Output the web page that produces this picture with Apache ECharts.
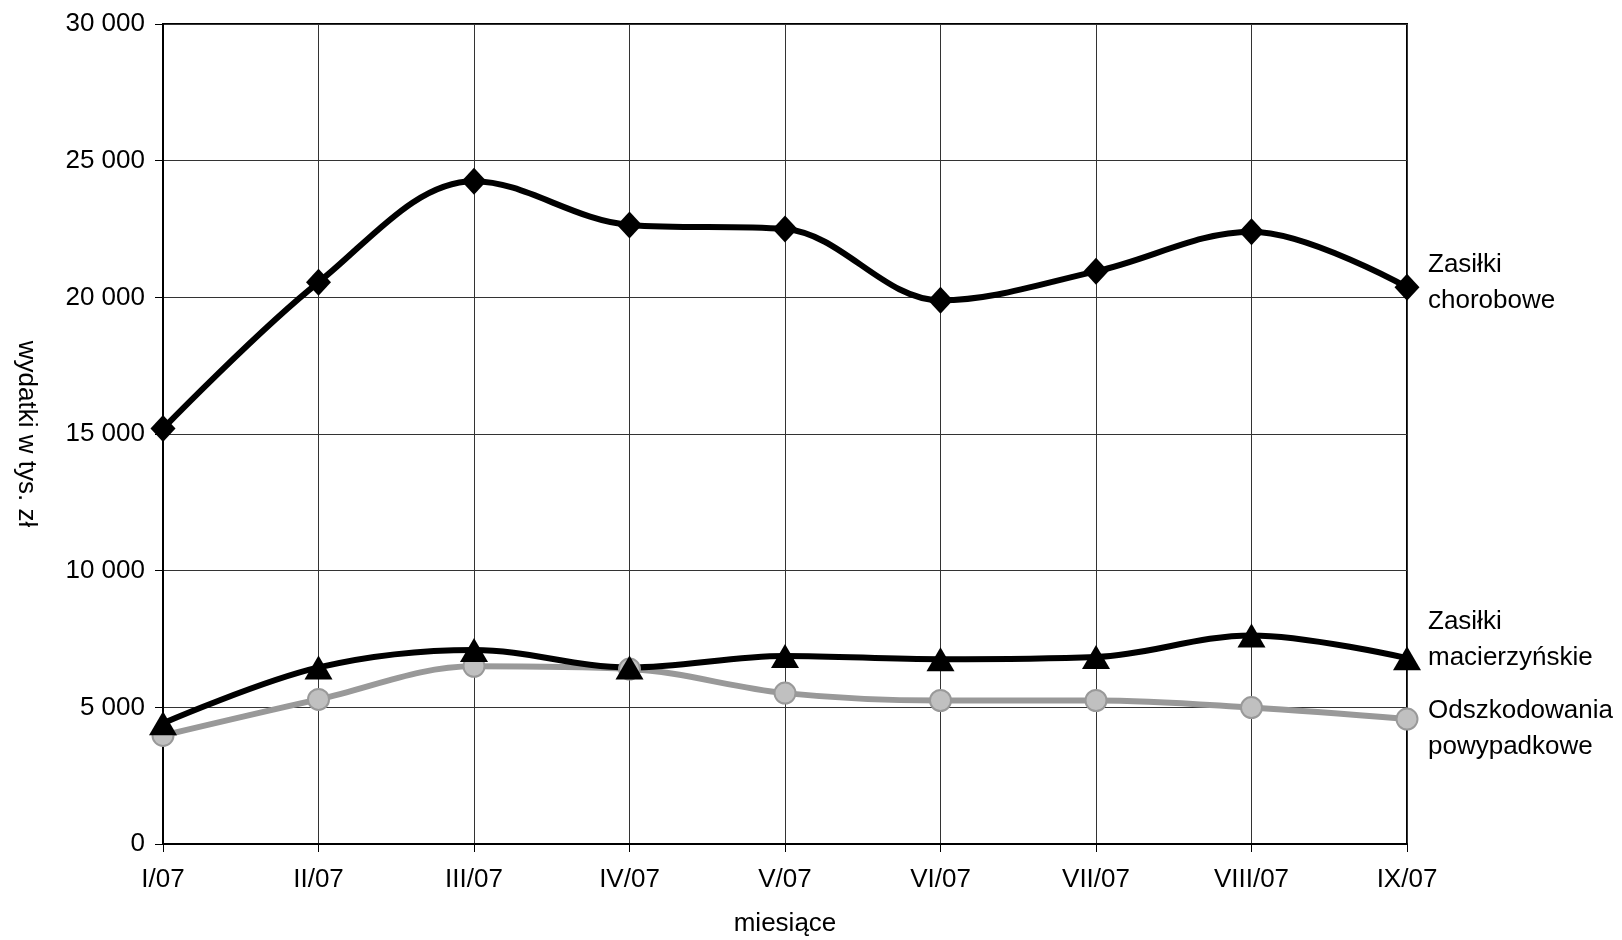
<!DOCTYPE html>
<html>
<head>
<meta charset="utf-8">
<script src="https://cdn.jsdelivr.net/npm/echarts@6/dist/echarts.min.js"></script>
<style>
html,body{margin:0;padding:0;background:#fff;}
#c{width:1622px;height:940px;}
</style>
</head>
<body>
<div id="c"></div>
<script>
const categories = ['I/07','II/07','III/07','IV/07','V/07','VI/07','VII/07','VIII/07','IX/07'];
const zasilkiChorobowe = [15200, 20550, 24250, 22650, 22500, 19890, 20950, 22400, 20370];
const zasilkiMacierzynskie = [4420, 6460, 7100, 6460, 6880, 6760, 6840, 7630, 6800];
const odszkodowania = [3970, 5290, 6500, 6400, 5520, 5250, 5250, 4990, 4570];
const yTicks = [0, 5000, 10000, 15000, 20000, 25000, 30000];

const FONT = 'Liberation Sans';
const FS = 26;
const fmt = v => String(v).replace(/\B(?=(\d{3})+(?!\d))/g, ' ');

const chart = echarts.init(document.getElementById('c'), null, {renderer:'canvas'});
chart.setOption({
  animation: false,
  backgroundColor: '#fff',
  textStyle: {fontFamily: FONT, color: '#000'},
  grid: {left: 163, right: 215, top: 24, bottom: 96, outerBoundsMode: 'none', containLabel: false,
         show: true, borderColor: '#000', borderWidth: 2, backgroundColor: 'transparent'},
  xAxis: {
    type: 'category', data: categories, boundaryGap: false,
    name: 'miesiące', nameLocation: 'middle', nameGap: 67,
    nameTextStyle: {fontFamily: FONT, fontSize: FS, color: '#000'},
    axisLine: {lineStyle: {color: '#000', width: 2}},
    axisTick: {show: true, length: 8, lineStyle: {color: '#000', width: 1}},
    axisLabel: {fontFamily: FONT, fontSize: FS, color: '#000', margin: 23},
    splitLine: {show: true, lineStyle: {color: '#333', width: 1}}
  },
  yAxis: {
    type: 'value', min: yTicks[0], max: yTicks[yTicks.length-1], interval: yTicks[1]-yTicks[0],
    name: 'wydatki w tys. zł', nameLocation: 'middle', nameGap: 124, nameRotate: -90,
    nameTextStyle: {fontFamily: FONT, fontSize: FS, color: '#000'},
    axisLine: {show: true, lineStyle: {color: '#000', width: 2}},
    axisTick: {show: true, length: 8, lineStyle: {color: '#000', width: 1}},
    axisLabel: {fontFamily: FONT, fontSize: FS, color: '#000', margin: 18, formatter: fmt},
    splitLine: {show: true, lineStyle: {color: '#333', width: 1}}
  },
  series: [
    {
      name: 'Odszkodowania powypadkowe', type: 'line', data: odszkodowania, smooth: 0.35,
      symbol: 'circle', symbolSize: 21,
      lineStyle: {color: '#999', width: 6},
      itemStyle: {color: '#c0c0c0', borderColor: '#999', borderWidth: 2},
      endLabel: {show: true, formatter: 'Odszkodowania\npowypadkowe', fontFamily: FONT, fontSize: FS, lineHeight: 36, color: '#000', offset: [13, 10], align: 'left'}
    },
    {
      name: 'Zasiłki macierzyńskie', type: 'line', data: zasilkiMacierzynskie, smooth: 0.35,
      symbol: 'triangle', symbolSize: [28, 24],
      lineStyle: {color: '#000', width: 6},
      itemStyle: {color: '#000'},
      endLabel: {show: true, formatter: 'Zasiłki\nmacierzyńskie', fontFamily: FONT, fontSize: FS, lineHeight: 36, color: '#000', offset: [13, -18], align: 'left'}
    },
    {
      name: 'Zasiłki chorobowe', type: 'line', data: zasilkiChorobowe, smooth: 0.35,
      symbol: 'diamond', symbolSize: [25, 27],
      lineStyle: {color: '#000', width: 6},
      itemStyle: {color: '#000'},
      endLabel: {show: true, formatter: 'Zasiłki\nchorobowe', fontFamily: FONT, fontSize: FS, lineHeight: 36, color: '#000', offset: [13, -4], align: 'left'}
    }
  ]
});
</script>
</body>
</html>
